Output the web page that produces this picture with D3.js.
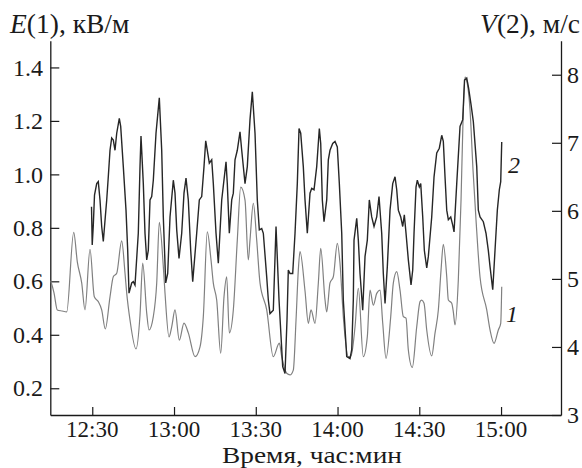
<!DOCTYPE html>
<html><head><meta charset="utf-8">
<script src="https://cdn.jsdelivr.net/npm/d3@7"></script>
<style>
body{margin:0;background:#fff;}
</style></head>
<body><svg id="c" width="582" height="468"></svg>
<script>
// minutes after 12:00
const eTime = [14.75,15.96,17.17,18.89,20.62,23.19,24.51,26.12,27.33,29.17,30.75,32.21,33.46,34.78,36.51,37.72,38.97,40.80,42.01,42.64,43.85,46.05,47.52,48.51,49.98,50.82,52.40,53.65,54.60,56.07,56.69,58.16,59.15,60.36,61.94,63.66,65.24,67.70,69.54,70.75,72.21,73.57,74.42,75.66,77.13,78.34,79.33,80.29,81.76,83.22,84.47,86.05,87.26,87.88,89.10,90.34,91.55,94.01,96.43,98.64,99.52,101.35,102.56,103.77,104.77,105.61,106.23,108.07,109.28,110.27,111.74,112.95,113.83,115.41,116.03,117.24,118.45,119.92,120.91,122.12,123.96,124.95,126.42,127.63,129.46,130.93,131.92,133.13,134.38,135.59,136.58,137.79,139.52,140.47,141.72,142.93,144.14,145.13,145.98,147.44,149.06,150.27,150.89,151.74,152.73,154.56,155.77,156.99,157.98,158.82,160.07,160.66,161.90,162.49,163.11,164.32,165.32,166.05,166.78,167.52,168.62,169.72,170.82,172.29,174.75,175.96,177.43,179.00,179.88,180.25];
const eValue = [0.602,0.557,0.493,0.489,0.486,0.783,0.673,0.594,0.493,0.720,0.542,0.524,0.493,0.422,0.542,0.617,0.630,0.751,0.631,0.556,0.455,0.347,0.474,0.668,0.481,0.418,0.468,0.594,0.821,0.655,0.556,0.392,0.430,0.493,0.380,0.444,0.407,0.318,0.355,0.468,0.785,0.680,0.593,0.530,0.331,0.542,0.617,0.407,0.493,0.754,0.952,0.904,0.680,0.754,0.892,0.754,0.594,0.493,0.318,0.369,0.318,0.256,0.250,0.268,0.455,0.642,0.711,0.564,0.443,0.493,0.443,0.593,0.723,0.530,0.486,0.594,0.617,0.742,0.667,0.468,0.318,0.321,0.430,0.574,0.318,0.393,0.567,0.511,0.555,0.567,0.444,0.312,0.468,0.593,0.636,0.567,0.468,0.462,0.343,0.278,0.430,0.524,0.530,0.518,0.418,0.321,0.406,0.493,0.642,0.738,0.617,0.530,0.518,0.486,0.437,0.605,0.904,1.203,1.364,1.345,1.241,1.016,0.829,0.616,0.493,0.418,0.368,0.418,0.443,0.580];

const vTime = [29.72,29.98,30.38,30.82,31.63,32.21,32.84,33.46,34.05,34.78,35.30,35.88,36.51,37.13,37.72,38.34,38.97,39.92,40.43,41.39,42.38,43.00,43.48,44.47,45.06,45.68,46.89,47.52,47.88,48.73,49.35,49.98,50.56,51.19,51.81,52.40,53.39,54.60,55.48,56.07,56.95,57.68,58.53,59.74,60.36,60.99,61.83,62.82,63.66,64.40,65.24,66.12,66.86,68.32,69.28,70.16,71.00,71.63,72.21,72.95,73.83,74.42,75.41,76.25,77.50,79.08,79.55,80.29,81.17,81.76,82.38,83.22,84.21,84.84,86.05,86.89,87.88,88.73,89.72,90.56,91.30,92.18,92.77,94.01,94.60,95.22,96.43,97.43,98.53,99.88,100.73,101.46,101.94,102.56,103.55,104.40,105.24,105.87,106.49,107.44,108.07,108.91,109.90,110.53,111.37,112.36,113.32,113.83,114.42,115.04,116.03,116.62,117.24,118.23,119.08,119.92,120.66,121.54,122.12,123.37,124.58,125.21,125.79,126.05,127.04,127.63,128.25,129.24,130.09,130.93,131.66,132.54,133.39,134.38,135.22,136.21,136.80,137.43,138.27,139.26,140.25,141.10,141.72,142.31,143.19,143.92,144.51,145.13,145.98,146.97,147.59,148.07,148.80,149.28,150.01,150.53,151.26,151.85,152.73,153.32,154.56,155.41,156.40,157.35,158.23,158.82,159.44,160.07,160.66,161.54,162.27,162.75,163.74,164.95,165.94,166.60,167.41,168.07,168.99,169.83,171.08,171.66,172.29,173.50,174.49,175.33,175.96,176.95,177.79,178.64,179.37,179.88,180.25];
const vValue = [6.06,5.50,5.79,6.23,6.40,6.43,6.16,5.77,5.55,5.91,6.16,6.50,6.89,7.07,7.04,6.89,7.14,7.36,7.24,6.65,6.01,5.42,4.79,4.94,4.96,4.91,5.67,6.65,7.10,6.40,5.67,5.28,5.42,6.16,6.21,6.45,7.14,7.66,6.89,5.91,4.94,5.08,5.91,6.45,6.26,5.72,5.30,5.67,6.26,6.48,6.16,5.42,4.96,5.67,6.16,6.21,6.65,7.03,6.89,6.70,6.75,6.40,5.67,5.23,6.16,6.72,6.40,5.67,6.16,6.26,6.75,6.89,7.16,6.89,6.40,6.65,7.34,7.75,7.14,6.16,5.72,5.74,5.67,5.03,4.69,4.49,4.54,5.77,4.69,3.71,3.61,4.40,5.13,5.08,5.08,5.67,6.40,7.21,7.14,6.65,6.16,5.67,6.26,6.33,6.31,6.65,7.21,6.99,6.16,5.84,6.16,6.75,6.89,6.99,7.02,6.94,6.40,5.67,4.69,3.86,3.83,3.96,4.69,5.57,5.89,5.57,5.08,4.54,5.33,5.57,6.16,5.91,5.77,5.91,6.21,5.67,5.08,4.64,5.18,6.01,6.40,6.50,6.31,6.01,5.91,5.77,5.94,5.67,5.28,4.91,5.13,5.67,6.35,6.45,6.35,6.40,5.91,5.42,5.16,5.33,5.91,6.50,6.85,6.92,7.11,7.02,6.50,6.01,5.87,5.91,5.79,5.69,6.40,7.24,7.34,7.92,7.95,7.81,7.56,7.31,6.65,6.01,5.91,5.84,5.67,5.42,5.18,4.84,5.42,6.01,6.31,6.43,7.01];

const xTicks = [30,60,90,120,150,180];
const xTickLabels = ["12:30","13:00","13:30","14:00","14:30","15:00"];
const eTicks = [0.2,0.4,0.6,0.8,1.0,1.2,1.4];
const vTicks = [3,4,5,6,7,8];

const FONT = '"Liberation Serif", "Times New Roman", serif';
const fsTick = 24, fsTitle = 27.5, fsX = 23;

const m={left:50.3,right:561,top:40.7,bottom:415};
const svg=d3.select("#c");
const x=d3.scaleLinear().domain([14.6,202]).range([m.left,m.right]);
const yE=d3.scaleLinear().domain([0.1,1.5]).range([m.bottom,m.top]);
const yV=d3.scaleLinear().domain([3,8.5]).range([m.bottom,m.top]);

const axL=svg.append("g").attr("transform",`translate(${m.left},0)`)
  .call(d3.axisRight(yE).tickValues(eTicks).tickSize(9).tickSizeOuter(0));
axL.selectAll("text").remove();
const axR=svg.append("g").attr("transform",`translate(${m.right},0)`)
  .call(d3.axisLeft(yV).tickValues(vTicks).tickSize(9).tickSizeOuter(0));
axR.selectAll("text").remove();
const axB=svg.append("g").attr("transform",`translate(0,${m.bottom})`)
  .call(d3.axisTop(x).tickValues(xTicks).tickSize(8).tickSizeOuter(0));
axB.selectAll("text").remove();
svg.selectAll(".domain").attr("stroke","#1a1a1a").attr("stroke-width",1.3);
svg.selectAll(".tick line").attr("stroke","#1a1a1a").attr("stroke-width",1.2);

function txt(sel,fs){return sel.style("font-family",FONT).attr("font-size",fs).attr("fill","#1a1a1a");}

txt(svg.append("g").selectAll("text").data(eTicks).join("text"),fsTick)
  .attr("x",43).attr("y",d=>yE(d)).attr("dy","0.34em").attr("text-anchor","end")
  .text(d=>d3.format(".1f")(d));
txt(svg.append("g").selectAll("text").data(vTicks).join("text"),fsTick)
  .attr("x",567).attr("y",d=>yV(d)).attr("dy","0.34em").attr("text-anchor","start")
  .text(d=>d);
txt(svg.append("g").selectAll("text").data(xTicks).join("text"),fsX)
  .attr("x",d=>x(d)).attr("y",437.2).attr("text-anchor","middle")
  .text((d,i)=>xTickLabels[i]);

const t1=txt(svg.append("text"),fsTitle).attr("x",10).attr("y",33);
t1.append("tspan").attr("font-style","italic").text("E");
t1.append("tspan").text("(1), кВ/м");
const t2=txt(svg.append("text"),fsTitle).attr("x",580).attr("y",33).attr("text-anchor","end");
t2.append("tspan").attr("font-style","italic").text("V");
t2.append("tspan").text("(2), м/с");
txt(svg.append("text"),fsX).attr("x",312).attr("y",462.8).attr("text-anchor","middle")
  .attr("textLength",180).attr("lengthAdjust","spacingAndGlyphs").text("Время, час:мин");

const eData=eTime.map((t,i)=>[t,eValue[i]]);
const vData=vTime.map((t,i)=>[t,vValue[i]]);
svg.append("path").datum(eData)
  .attr("d",d3.line().x(d=>x(d[0])).y(d=>yE(d[1])).curve(d3.curveMonotoneX))
  .attr("fill","none").attr("stroke","#808080").attr("stroke-width",1.2);
svg.append("path").datum(vData)
  .attr("d",d3.line().x(d=>x(d[0])).y(d=>yV(d[1])))
  .attr("fill","none").attr("stroke","#262626").attr("stroke-width",1.4);

txt(svg.append("text"),fsTick).attr("x",508).attr("y",173).attr("font-style","italic").text("2");
txt(svg.append("text"),fsTick).attr("x",506).attr("y",322).attr("font-style","italic").text("1");
</script></body></html>
